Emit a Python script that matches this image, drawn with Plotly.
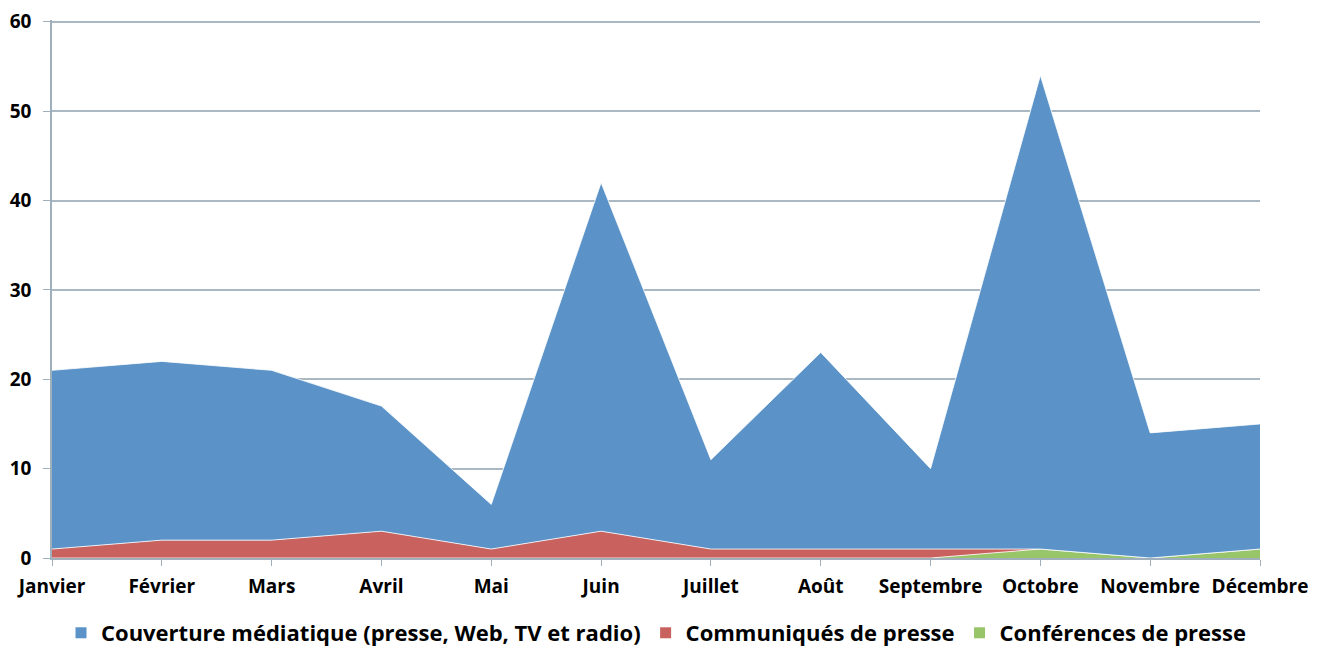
import plotly.graph_objects as go

months = ["Janvier", "Février", "Mars", "Avril", "Mai", "Juin", "Juillet",
          "Août", "Septembre", "Octobre", "Novembre", "Décembre"]
conferences = [0, 0, 0, 0, 0, 0, 0, 0, 0, 1, 0, 1]
communiques = [1, 2, 2, 3, 1, 3, 1, 1, 1, 0, 0, 0]
couverture = [20, 20, 19, 14, 5, 39, 10, 22, 9, 53, 14, 14]
y_ticks = [0, 10, 20, 30, 40, 50, 60]

x = list(range(len(months)))
font_family = "Open Sans"

fig = go.Figure()
series = [
    ("Conférences de presse", conferences, "#98C46A"),
    ("Communiqués de presse", communiques, "#C9625F"),
    ("Couverture médiatique (presse, Web, TV et radio)", couverture, "#5B93C8"),
]
for name, vals, col in series:
    fig.add_trace(go.Scatter(
        x=x, y=vals, name=name, stackgroup="one", mode="lines",
        line=dict(color="rgba(255,255,255,0.8)", width=1),
        fillcolor=col, showlegend=False,
    ))
# legend entries with square markers (in reference order)
for name, vals, col in reversed(series):
    fig.add_trace(go.Scatter(
        x=[None], y=[None], name=name, mode="markers",
        marker=dict(symbol="square", size=11, color=col),
        showlegend=True,
    ))

# the page body has an 8px margin, so the figure is offset by 8px
fig.update_layout(
    width=1318, height=641,
    margin=dict(l=44, r=66, t=12, b=91),
    paper_bgcolor="white", plot_bgcolor="white",
    font=dict(family=font_family, size=17, color="black"),
    showlegend=True,
    legend=dict(orientation="h", x=0.5, xanchor="center",
                yref="container", y=0.025, yanchor="middle",
                traceorder="normal",
                font=dict(family=font_family, size=22, color="black", weight="bold"),
                itemwidth=30, tracegroupgap=0),
    xaxis=dict(
        range=[0, 11], tickmode="array", tickvals=x, ticktext=months,
        showgrid=False, showline=True, linecolor="#9FB0BC", linewidth=1.5,
        ticks="outside", ticklen=6, tickcolor="#9FB0BC",
        ticklabelstandoff=4, ticklabeloverflow="allow",
        tickfont=dict(family=font_family, size=19, color="black", weight="bold"),
        zeroline=False, automargin=False,
    ),
    yaxis=dict(
        range=[0, 60.2], tickvals=y_ticks,
        showgrid=True, gridcolor="#A9B8C3", gridwidth=1.5,
        showline=True, linecolor="#9FB0BC", linewidth=1.5,
        ticks="outside", ticklen=7, tickcolor="#9FB0BC",
        ticklabelstandoff=8, ticklabeloverflow="allow",
        tickfont=dict(family=font_family, size=19, color="black", weight="bold"),
        zeroline=False, automargin=False,
    ),
)

fig.write_html("out.html")
